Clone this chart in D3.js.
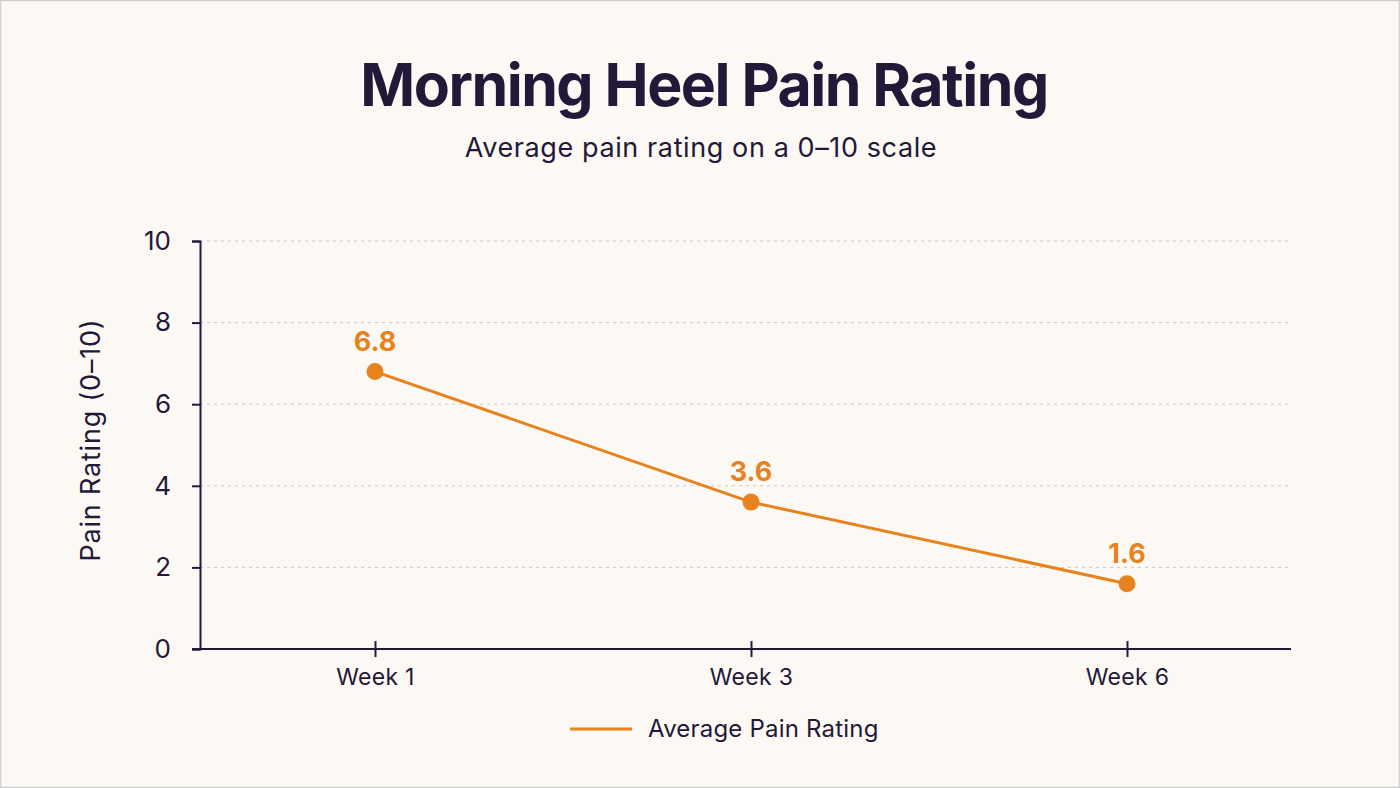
<!DOCTYPE html>
<html><head><meta charset="utf-8">
<script src="https://cdn.jsdelivr.net/npm/d3@7"></script>
<style>
html,body{margin:0;padding:0;background:#FCF9F4;}
svg{display:block;}
</style></head>
<body>
<script>
const categories = ["Week 1", "Week 3", "Week 6"];
const painValues = [6.8, 3.6, 1.6];
const yTicks = [0, 2, 4, 6, 8, 10];
const seriesName = "Average Pain Rating";
const titleText = "Morning Heel Pain Rating";
const subtitleText = "Average pain rating on a 0–10 scale";
const yAxisTitle = "Pain Rating (0–10)";

const W = 1400, H = 788;
const ink = "#231838", orange = "#E8821E", font = "Inter, 'Noto Sans', sans-serif";

const svg = d3.select("body").append("svg").attr("width", W).attr("height", H);
svg.append("rect").attr("x",0.5).attr("y",0.5).attr("width",W-1).attr("height",H-1)
  .attr("fill","#FCF9F4").attr("stroke","#CFCFCF").attr("stroke-width",1.5);

svg.append("text").attr("x",704).attr("y",106).attr("text-anchor","middle")
  .attr("font-family",font).attr("font-weight",700).attr("font-size",59)
  .attr("letter-spacing",-1.5).attr("fill",ink).text(titleText);
svg.append("text").attr("x",701).attr("y",157).attr("text-anchor","middle")
  .attr("font-family",font).attr("font-size",27).attr("letter-spacing",0.6).attr("fill",ink).text(subtitleText);

const x0 = 200, x1 = 1291, yTop = 241, yBot = 649;
const x = d3.scalePoint().domain(categories).range([375, 1127]);
const y = d3.scaleLinear().domain([0, 10]).range([yBot, yTop]);

// grid
svg.append("g").selectAll("line").data(yTicks.filter(d=>d>0)).join("line")
  .attr("x1", x0).attr("x2", x1).attr("y1", d=>y(d)).attr("y2", d=>y(d))
  .attr("stroke","#CBC8C4").attr("stroke-width",1).attr("stroke-dasharray","3,4");

// y axis
const yAxis = svg.append("g").attr("transform",`translate(${x0},0)`)
  .call(d3.axisLeft(y).tickValues(yTicks).tickSize(8).tickPadding(21));
yAxis.select(".domain").attr("stroke",ink).attr("stroke-width",2);
yAxis.selectAll(".tick line").attr("stroke",ink).attr("stroke-width",2);
yAxis.selectAll(".tick text").attr("font-family",font).attr("font-size",26).attr("fill",ink);

// x axis
svg.append("line").attr("x1",x0-8).attr("x2",x1).attr("y1",yBot).attr("y2",yBot)
  .attr("stroke",ink).attr("stroke-width",2);
const xAxis = svg.append("g").attr("transform",`translate(0,${yBot})`)
  .call(d3.axisBottom(x).tickSize(8).tickPadding(12));
xAxis.select(".domain").remove();
xAxis.selectAll(".tick line").attr("y1",-8).attr("stroke",ink).attr("stroke-width",2);
xAxis.selectAll(".tick text").attr("font-family",font).attr("font-size",23).attr("letter-spacing",0.3).attr("fill",ink);

svg.append("text").attr("transform",`translate(100,440) rotate(-90)`).attr("text-anchor","middle")
  .attr("font-family",font).attr("font-size",27).attr("letter-spacing",0.8).attr("fill",ink).text(yAxisTitle);

// line
const data = categories.map((c,i)=>({c, v: painValues[i]}));
svg.append("path").datum(data)
  .attr("d", d3.line().x(d=>x(d.c)).y(d=>y(d.v)))
  .attr("fill","none").attr("stroke",orange).attr("stroke-width",3);
svg.append("g").selectAll("circle").data(data).join("circle")
  .attr("cx",d=>x(d.c)).attr("cy",d=>y(d.v)).attr("r",8.5).attr("fill",orange);
svg.append("g").selectAll("text").data(data).join("text")
  .attr("x",d=>x(d.c)).attr("y",d=>y(d.v)-21).attr("text-anchor","middle")
  .attr("font-family",font).attr("font-weight",700).attr("font-size",27).attr("fill",orange)
  .text(d=>d.v.toFixed(1));

// legend
svg.append("line").attr("x1",570).attr("x2",632).attr("y1",729).attr("y2",729)
  .attr("stroke",orange).attr("stroke-width",3);
svg.append("text").attr("x",648).attr("y",737).attr("font-family",font).attr("font-size",24)
  .attr("letter-spacing",0.2).attr("fill",ink).text(seriesName);
</script>
</body></html>
